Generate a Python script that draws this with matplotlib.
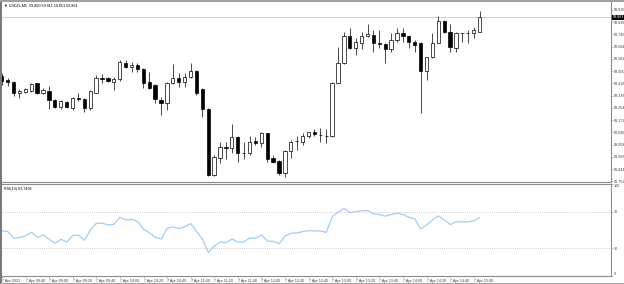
"""MT5-style M5 candlestick chart with RSI(14) sub-window."""

import matplotlib

matplotlib.use("Agg")
import matplotlib.pyplot as plt
from matplotlib.patches import Rectangle

W, H = 624, 284

TITLE = "USDZL,M5  59.860 59.911 59.851 59.861"
RSI_TITLE = "RSI(14) 63.7496"

# OHLC per 5-minute candle, 08:20 .. 15:05
OPEN = [59.470, 59.441, 59.430, 59.352, 59.361, 59.369, 59.419, 59.352, 59.369, 59.307,
        59.258, 59.294, 59.251, 59.318, 59.312, 59.251, 59.356, 59.452, 59.452, 59.426,
        59.446, 59.557, 59.526, 59.542, 59.513, 59.430, 59.408, 59.307, 59.285, 59.423,
        59.452, 59.430, 59.459, 59.503, 59.379, 59.245, 58.805, 58.916, 58.994, 58.983,
        59.057, 58.954, 58.950, 59.034, 59.017, 59.084, 58.916, 58.898, 58.820, 58.967,
        59.034, 59.028, 59.066, 59.095, 59.073, 59.066, 59.066, 59.423, 59.553, 59.736,
        59.653, 59.691, 59.736, 59.743, 59.687, 59.680, 59.649, 59.709, 59.754, 59.736,
        59.698, 59.687, 59.503, 59.593, 59.691, 59.836, 59.761, 59.653, 59.754, 59.758,
        59.754, 59.765]
HIGH = [59.486, 59.452, 59.436, 59.379, 59.385, 59.423, 59.423, 59.385, 59.401, 59.312,
        59.307, 59.298, 59.329, 59.352, 59.318, 59.374, 59.475, 59.481, 59.463, 59.463,
        59.575, 59.575, 59.564, 59.553, 59.519, 59.497, 59.414, 59.329, 59.430, 59.548,
        59.490, 59.490, 59.553, 59.508, 59.385, 59.251, 58.939, 59.028, 59.028, 59.146,
        59.066, 59.028, 59.066, 59.061, 59.095, 59.088, 58.939, 58.905, 58.972, 59.039,
        59.066, 59.084, 59.095, 59.111, 59.117, 59.111, 59.428, 59.664, 59.761, 59.787,
        59.720, 59.761, 59.816, 59.776, 59.776, 59.687, 59.754, 59.787, 59.787, 59.743,
        59.709, 59.698, 59.597, 59.754, 59.870, 59.843, 59.816, 59.765, 59.758, 59.776,
        59.798, 59.905]
LOW = [59.408, 59.401, 59.336, 59.318, 59.352, 59.359, 59.347, 59.345, 59.245, 59.251,
       59.245, 59.253, 59.240, 59.302, 59.229, 59.240, 59.352, 59.423, 59.430, 59.374,
       59.436, 59.519, 59.497, 59.497, 59.385, 59.379, 59.285, 59.207, 59.240, 59.414,
       59.396, 59.392, 59.452, 59.341, 59.195, 58.801, 58.798, 58.883, 58.910, 58.950,
       58.894, 58.910, 58.939, 59.006, 58.990, 58.894, 58.883, 58.805, 58.789, 58.916,
       58.972, 59.006, 59.050, 59.066, 59.028, 59.017, 59.059, 59.419, 59.551, 59.647,
       59.609, 59.647, 59.731, 59.631, 59.653, 59.553, 59.631, 59.698, 59.698, 59.653,
       59.631, 59.218, 59.441, 59.586, 59.687, 59.754, 59.631, 59.631, 59.698, 59.691,
       59.720, 59.763]
CLOSE = [59.436, 59.430, 59.352, 59.367, 59.379, 59.412, 59.352, 59.374, 59.307, 59.258,
         59.300, 59.258, 59.318, 59.317, 59.251, 59.367, 59.452, 59.451, 59.436, 59.448,
         59.564, 59.526, 59.544, 59.513, 59.423, 59.385, 59.312, 59.285, 59.423, 59.452,
         59.426, 59.463, 59.501, 59.352, 59.245, 58.805, 58.923, 58.994, 58.983, 59.061,
         58.954, 58.953, 59.028, 59.021, 59.084, 58.910, 58.894, 58.820, 58.967, 59.028,
         59.033, 59.066, 59.091, 59.079, 59.072, 59.067, 59.419, 59.557, 59.736, 59.653,
         59.698, 59.736, 59.749, 59.687, 59.680, 59.649, 59.709, 59.754, 59.736, 59.698,
         59.676, 59.503, 59.593, 59.691, 59.836, 59.761, 59.660, 59.754, 59.753, 59.757,
         59.776, 59.861]

RSI = [49.3, 48.2, 41.0, 42.0, 43.5, 47.5, 42.0, 44.6, 39.9, 35.5,
       39.9, 36.9, 44.2, 44.2, 38.8, 50.1, 57.3, 57.3, 55.5, 56.3,
       63.9, 61.0, 61.7, 59.2, 50.8, 47.1, 42.0, 40.2, 51.9, 53.3,
       51.5, 53.7, 57.0, 48.2, 40.2, 25.6, 32.6, 36.9, 36.2, 40.2,
       36.9, 36.9, 41.3, 41.0, 44.6, 38.0, 37.7, 35.1, 43.5, 46.4,
       46.8, 48.2, 49.3, 49.0, 49.0, 47.5, 64.6, 69.4, 73.4, 69.0,
       70.1, 70.8, 71.2, 67.5, 66.8, 65.0, 66.8, 68.3, 66.8, 63.9,
       62.1, 51.1, 55.5, 61.0, 65.4, 61.0, 55.9, 58.8, 58.8, 58.8,
       59.9, 63.5]

PRICE_TICKS = [59.910, 59.828, 59.746, 59.664, 59.582, 59.500, 59.418, 59.336,
               59.254, 59.172, 59.090, 59.008, 58.926, 58.844, 58.762]
RSI_TICKS = [0, 30, 70, 100]
TIME_LABELS = ["7 Apr 2021", "7 Apr 08:40", "7 Apr 09:00", "7 Apr 09:20",
               "7 Apr 09:40", "7 Apr 10:00", "7 Apr 10:20", "7 Apr 10:40",
               "7 Apr 11:00", "7 Apr 11:20", "7 Apr 11:40", "7 Apr 12:00",
               "7 Apr 12:20", "7 Apr 12:40", "7 Apr 13:00", "7 Apr 13:20",
               "7 Apr 13:40", "7 Apr 14:00", "7 Apr 14:20", "7 Apr 14:40",
               "7 Apr 15:00"]
BARS_PER_LABEL = 4

GRID = "#8c8c8c"
TXT = "#404040"
RSI_COLOR = "#9fcdfb"
FS = 2.7

plt.rcParams["font.family"] = ["Liberation Sans", "DejaVu Sans"]


def px_axes(fig, x0, y0, x1, y1):
    return fig.add_axes([x0 / W, 1 - y1 / H, (x1 - x0) / W, (y1 - y0) / H])


def style_panel(ax):
    for side in ("top", "bottom", "right"):
        ax.spines[side].set_color(GRID)
        ax.spines[side].set_linewidth(0.8)
    ax.spines["left"].set_visible(False)
    ax.yaxis.tick_right()
    ax.tick_params(axis="y", length=1.2, width=0.4, colors=GRID,
                   labelcolor=TXT, labelsize=FS, pad=0.8)


def main():
    fig = plt.figure(figsize=(W / 100, H / 100), dpi=100)
    fig.patch.set_facecolor("white")

    xs = list(range(len(OPEN)))
    x_left = 0.05
    x_right = x_left + 609 / 5.9

    ax = px_axes(fig, 2, 1, 611, 182)
    style_panel(ax)
    ax.set_xlim(x_left, x_right)
    ax.set_ylim(58.758, 59.970)
    ax.set_xticks([])

    ax.axhline(CLOSE[-1], color="#c8c8c8", linewidth=0.6, zorder=0)
    ax.vlines(xs, LOW, HIGH, color="black", linewidth=0.5, zorder=1)
    tiny = 0.0015
    for x, o, c in zip(xs, OPEN, CLOSE):
        bottom = min(o, c)
        height = max(abs(c - o), tiny)
        face = "black" if c < o else "white"
        ax.bar(x, height, bottom=bottom, width=0.55, facecolor=face,
               edgecolor="black", linewidth=0.5, zorder=2)

    ax.set_yticks(PRICE_TICKS)
    ax.set_yticklabels([f"{v:.3f}" for v in PRICE_TICKS])
    ax.text(1.003, CLOSE[-1], f"{CLOSE[-1]:.3f}", transform=ax.get_yaxis_transform(),
            fontsize=FS, color="white", va="center", ha="left",
            bbox=dict(boxstyle="square,pad=0.2", facecolor="black", edgecolor="none"))
    ax.text(0.004, 0.985, "\u25bc " + TITLE, transform=ax.transAxes,
            fontsize=FS, color="black", va="top", ha="left")

    ax2 = px_axes(fig, 2, 184, 611, 276)
    style_panel(ax2)
    ax2.set_xlim(x_left, x_right)
    ax2.set_ylim(0, 100)
    for level in (30, 70):
        ax2.axhline(level, color="#c0c0c0", linewidth=0.6, linestyle=(0, (1, 1.5)))
    ax2.plot(xs, RSI, color=RSI_COLOR, linewidth=0.9)
    ax2.set_yticks(RSI_TICKS)
    ax2.set_yticklabels([str(v) for v in RSI_TICKS])
    rsi_labels = ax2.get_yticklabels()
    rsi_labels[-1].set_va("top")
    rsi_labels[0].set_va("bottom")
    ax2.text(0.004, 0.97, RSI_TITLE, transform=ax2.transAxes,
             fontsize=FS, color="black", va="top", ha="left")

    ticks = [i * BARS_PER_LABEL for i in range(len(TIME_LABELS))]
    ax2.set_xticks(ticks)
    ax2.set_xticklabels(TIME_LABELS, ha="left")
    ax2.tick_params(axis="x", length=1.2, width=0.4, colors=GRID,
                    labelcolor=TXT, labelsize=FS, pad=0.8)

    # window frame
    fig.patches.append(Rectangle((0, 0), 2 / W, 1, transform=fig.transFigure,
                                 facecolor="#7a7a7a", edgecolor="none"))
    fig.patches.append(Rectangle((0, 1 - 1.5 / H), 1, 1.5 / H, transform=fig.transFigure,
                                 facecolor="#a0a0a0", edgecolor="none"))
    fig.patches.append(Rectangle((0, 0), 1, 1.2 / H, transform=fig.transFigure,
                                 facecolor="#a0a0a0", edgecolor="none"))

    fig.savefig("out.png", dpi=100)


if __name__ == "__main__":
    main()
